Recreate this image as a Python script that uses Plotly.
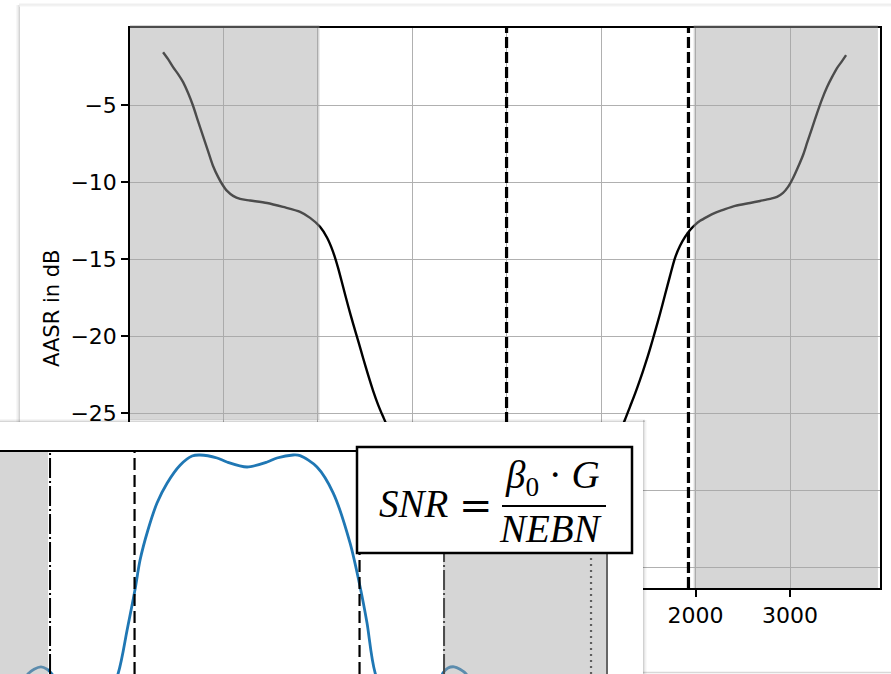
import plotly.graph_objects as go

W, H = 891, 674

# ---- main panel: AASR over Doppler frequency ----
freq_hz = [-3635, -3582, -3529, -3476, -3423, -3370, -3317, -3265, -3212, -3159,
           -3106, -3053, -3011, -2958, -2894, -2820, -2714, -2534, -2365, -2185,
           -2079, -1974, -1899, -1836, -1783, -1730, -1677, -1624, -1571, -1519,
           -1466, -1413, -1360, -1307, -1254, -1150, -1000, -800, -600, -400,
           -200, 0, 200, 400, 600, 800, 1000, 1150, 1201, 1254,
           1307, 1360, 1413, 1466, 1519, 1571, 1624, 1677, 1730, 1783,
           1836, 1889, 1942, 1995, 2048, 2122, 2206, 2291, 2418, 2577,
           2683, 2788, 2862, 2926, 2979, 3032, 3085, 3138, 3180, 3233,
           3286, 3339, 3392, 3444, 3497, 3550, 3593]
aasr_db = [-1.57, -2.02, -2.54, -2.99, -3.51, -4.22, -5.06, -6.04, -7.01, -7.98,
           -8.95, -9.66, -10.12, -10.57, -10.89, -11.09, -11.19, -11.35, -11.61, -11.93,
           -12.32, -12.90, -13.61, -14.52, -15.56, -16.79, -18.02, -19.18, -20.28, -21.39,
           -22.49, -23.52, -24.43, -25.21, -25.92, -27.0, -28.6, -30.4, -31.9, -32.9,
           -33.5, -33.7, -33.5, -32.9, -31.9, -30.4, -28.6, -27.0, -26.18, -25.40,
           -24.56, -23.72, -22.81, -21.84, -20.80, -19.70, -18.54, -17.31, -16.08, -14.91,
           -14.13, -13.55, -13.10, -12.77, -12.51, -12.25, -11.99, -11.80, -11.54, -11.35,
           -11.22, -11.09, -10.96, -10.70, -10.31, -9.73, -9.02, -8.24, -7.46, -6.49,
           -5.52, -4.61, -3.83, -3.19, -2.60, -2.15, -1.76]
main_xrange = [-3985, 3952]
main_yrange = [-36.33, 0]
main_xticks = [-3000, -2000, -1000, 0, 1000, 2000, 3000]
main_yticks = [-35, -30, -25, -20, -15, -10, -5]
main_dashed_hz = [0, 1925]
main_shaded_hz = [(-3985, -1980), (1980, 3930)]

# ---- inset panel: azimuth antenna pattern ----
dop_hz = [-1200, -1112, -1081, -1046, -1015, -990, -820, -655, -609, -569,
          -543, -503, -457, -406, -340, -279, -239, -152, -102, 0,
          102, 152, 234, 269, 355, 437, 523, 574, 609, 650,
          820, 995, 1020, 1051, 1081, 1112, 1200]
gain_db = [-42, -36.5, -35.7, -35.3, -35.7, -36.5, -50, -36.5, -29.2, -22.5,
           -17.5, -12.5, -8.0, -4.7, -1.7, -0.17, 0.0, -0.5, -1.17, -2.0,
           -1.17, -0.5, 0.0, -0.1, -2.0, -6.3, -14.7, -22.0, -28.0, -36.3,
           -50, -36.3, -35.5, -35.3, -35.7, -36.5, -42]
inset_xrange = [-1254, 1822]
inset_yrange = [-36.5, 0.5]
inset_dashdot_hz = [-1000, 1000]
inset_dashed_hz = [-571, 571]
inset_dotted_hz = [1746]
inset_shaded_hz = [(-1254, -1010), (995, 1822)]


def fx(p):
    return p / W


def fy(p):
    return 1 - p / H


SHADE = "rgba(165,165,165,0.46)"
TICKFONT = dict(family="DejaVu Sans", size=22, color="black")

fig = go.Figure()

# main curve
fig.add_trace(go.Scatter(x=freq_hz, y=aasr_db, mode="lines",
                         line=dict(color="black", width=2.4, shape="spline", smoothing=0.8),
                         xaxis="x", yaxis="y", hoverinfo="skip", showlegend=False))
for xv in main_dashed_hz:
    fig.add_trace(go.Scatter(x=[xv, xv], y=main_yrange, mode="lines",
                             line=dict(color="black", width=3.2, dash="11px,4px"),
                             xaxis="x", yaxis="y", hoverinfo="skip", showlegend=False))

# white card holding the inset
fig.add_trace(go.Scatter(x=[None], y=[None], xaxis="x2", yaxis="y2",
                         hoverinfo="skip", showlegend=False))

# inset curve and markers
fig.add_trace(go.Scatter(x=dop_hz, y=gain_db, mode="lines",
                         line=dict(color="#1f77b4", width=2.8, shape="spline", smoothing=0.8),
                         xaxis="x3", yaxis="y3", hoverinfo="skip", showlegend=False))
for xv in inset_dashdot_hz:
    fig.add_trace(go.Scatter(x=[xv, xv], y=inset_yrange, mode="lines",
                             line=dict(color="black", width=2, dash="20px,3px,2px,3px"),
                             xaxis="x3", yaxis="y3", hoverinfo="skip", showlegend=False))
for xv in inset_dashed_hz:
    fig.add_trace(go.Scatter(x=[xv, xv], y=inset_yrange, mode="lines",
                             line=dict(color="black", width=2.2, dash="12px,5px"),
                             xaxis="x3", yaxis="y3", hoverinfo="skip", showlegend=False))
for xv in inset_dotted_hz:
    fig.add_trace(go.Scatter(x=[xv, xv], y=inset_yrange, mode="lines",
                             line=dict(color="#222", width=2.2, dash="2px,4px"),
                             xaxis="x3", yaxis="y3", hoverinfo="skip", showlegend=False))

shapes = []

# soft edges of the main card
for off, col in [(0, "#d4d4d4"), (-1, "#e4e4e4"), (-2, "#f0f0f0"), (-3, "#f7f7f7")]:
    shapes.append(dict(type="line", xref="paper", yref="paper", layer="below",
                       x0=fx(19.5 + off), x1=fx(19.5 + off), y0=fy(5), y1=fy(674),
                       line=dict(color=col, width=1)))
for off, col in [(0, "#e2e2e2"), (-1, "#eeeeee"), (1, "#f4f4f4")]:
    shapes.append(dict(type="line", xref="paper", yref="paper", layer="below",
                       x0=fx(19), x1=fx(891), y0=fy(5 + off), y1=fy(5 + off),
                       line=dict(color=col, width=1)))
shapes.append(dict(type="line", xref="paper", yref="paper", layer="below",
                   x0=fx(640), x1=fx(891), y0=fy(672.5), y1=fy(672.5),
                   line=dict(color="#d8d8d8", width=1.5)))

# shaded bands of the inset
for a, b in inset_shaded_hz:
    shapes.append(dict(type="rect", xref="x3", yref="y3", layer="above",
                       x0=a, x1=b, y0=inset_yrange[0], y1=inset_yrange[1],
                       fillcolor=SHADE, line=dict(width=0)))

# shaded bands of the main panel (left one stops at the inset card)
band_bottom = [420, 588]
for (a, b), yb in zip(main_shaded_hz, band_bottom):
    shapes.append(dict(type="rect", xref="x", yref="paper", layer="above",
                       x0=a, x1=b, y0=fy(yb), y1=fy(25),
                       fillcolor=SHADE, line=dict(width=0)))

# soft edges of the inset card
for off, col in [(0, "rgba(0,0,0,0.16)"), (-1, "rgba(0,0,0,0.08)"), (-2, "rgba(0,0,0,0.04)")]:
    shapes.append(dict(type="line", xref="paper", yref="paper", layer="above",
                       x0=fx(0), x1=fx(645), y0=fy(421.5 + off), y1=fy(421.5 + off),
                       line=dict(color=col, width=1)))
for off, col in [(0, "rgba(0,0,0,0.18)"), (1, "rgba(0,0,0,0.10)"), (2, "rgba(0,0,0,0.05)"),
                 (3, "rgba(0,0,0,0.025)")]:
    shapes.append(dict(type="line", xref="paper", yref="paper", layer="above",
                       x0=fx(643.5 + off), x1=fx(643.5 + off), y0=fy(420), y1=fy(674),
                       line=dict(color=col, width=1)))

# formula box
shapes.append(dict(type="rect", xref="paper", yref="paper", layer="above",
                   x0=fx(357), x1=fx(632), y0=fy(553), y1=fy(447),
                   fillcolor="white", line=dict(color="black", width=2.5)))
shapes.append(dict(type="line", xref="paper", yref="paper", layer="above",
                   x0=fx(502), x1=fx(606), y0=fy(506), y1=fy(506),
                   line=dict(color="black", width=2)))

MATH = dict(family="Liberation Serif", size=39, color="black")
annotations = [
    dict(text="AASR in dB", x=fx(52), y=fy(309), xref="paper", yref="paper",
         textangle=-90, showarrow=False, xanchor="center", yanchor="middle",
         font=dict(family="DejaVu Sans", size=21, color="black")),
    dict(text="<i>SNR</i>", x=fx(414), y=fy(504), xref="paper", yref="paper",
         showarrow=False, xanchor="center", yanchor="middle", font=MATH),
    dict(text="=", x=fx(476), y=fy(505), xref="paper", yref="paper",
         showarrow=False, xanchor="center", yanchor="middle",
         font=dict(family="DejaVu Serif", size=40, color="black")),
    dict(text="<i>β</i><sub>0</sub> · <i>G</i>", x=fx(552), y=fy(478), xref="paper",
         yref="paper", showarrow=False, xanchor="center", yanchor="middle", font=MATH),
    dict(text="<i>NEBN</i>", x=fx(550), y=fy(528), xref="paper", yref="paper",
         showarrow=False, xanchor="center", yanchor="middle", font=MATH),
]

axis_common = dict(showline=True, linecolor="black", linewidth=1.5, mirror=True,
                   ticks="outside", ticklen=7, tickwidth=1.5, tickcolor="black",
                   showgrid=True, gridcolor="#b0b0b0", gridwidth=1.2, zeroline=False,
                   tickfont=TICKFONT)
hidden = dict(showline=False, showgrid=False, zeroline=False, ticks="",
              showticklabels=False, range=[0, 1], fixedrange=True)

fig.update_layout(
    width=W, height=H,
    margin=dict(l=0, r=0, t=0, b=0),
    paper_bgcolor="white", plot_bgcolor="white",
    showlegend=False,
    xaxis=dict(domain=[fx(130), fx(880)], range=main_xrange, tickvals=main_xticks,
               anchor="y", **axis_common),
    yaxis=dict(domain=[fy(588), fy(28)], range=main_yrange, tickvals=main_yticks,
               anchor="x", **axis_common),
    xaxis2=dict(domain=[0, fx(643)], anchor="y2", **hidden),
    yaxis2=dict(domain=[0, fy(422)], anchor="x2", **hidden),
    xaxis3=dict(domain=[0, fx(606)], range=inset_xrange, anchor="y3", side="top",
                showline=True, linecolor="black", linewidth=1.5, mirror=False,
                ticks="", showticklabels=False, showgrid=False, zeroline=False),
    yaxis3=dict(domain=[0, fy(452)], range=inset_yrange, anchor="x3", side="right",
                showline=True, linecolor="#666666", linewidth=1.5, mirror=False,
                ticks="", showticklabels=False, showgrid=False, zeroline=False),
    shapes=shapes,
    annotations=annotations,
)

fig.write_html("out.html")
